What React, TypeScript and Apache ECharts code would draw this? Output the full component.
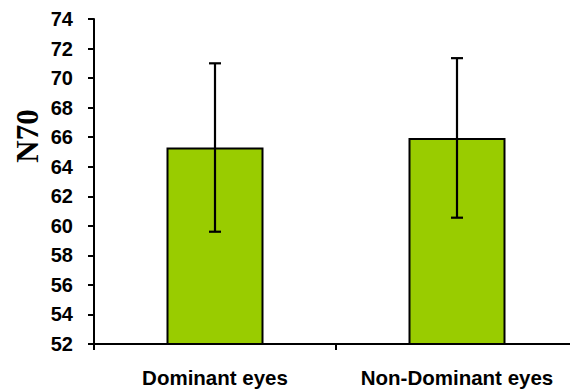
import React, { useEffect, useRef } from "react";
import * as echarts from "echarts";

const categories = ["Dominant eyes", "Non-Dominant eyes"];
const means = [65.3, 65.95];
const errLow = [59.6, 60.55];
const errHigh = [71.0, 71.35];
const yTicks = { min: 52, max: 74, interval: 2 };
const yName = "N70";

export default function App() {
  const ref = useRef<HTMLDivElement>(null);
  useEffect(() => {
    if (!ref.current) return;
    const chart = echarts.init(ref.current, undefined, { renderer: "svg" });
    const errData = categories.map((_, i) => [i, errLow[i], errHigh[i]]);
    chart.setOption({
      animation: false,
      backgroundColor: "#ffffff",
      grid: { left: 94, top: 19, bottom: 48, right: 2 },
      xAxis: {
        type: "category",
        data: categories,
        axisLine: { lineStyle: { color: "#000", width: 2 } },
        axisTick: { show: true, length: 6, lineStyle: { color: "#000", width: 2 } },
        axisLabel: {
          color: "#000",
          fontFamily: "Liberation Sans, Arial",
          fontWeight: "bold",
          fontSize: 20.5,
          margin: 23,
          interval: 0,
          hideOverlap: false,
        },
        splitLine: { show: false },
      },
      yAxis: {
        type: "value",
        min: yTicks.min,
        max: yTicks.max,
        interval: yTicks.interval,
        axisLine: { show: true, lineStyle: { color: "#000", width: 2 } },
        axisTick: { show: true, length: 6, lineStyle: { color: "#000", width: 2 } },
        axisLabel: {
          color: "#000",
          fontFamily: "Liberation Sans, Arial",
          fontWeight: "bold",
          fontSize: 20,
          margin: 21,
        },
        splitLine: { show: false },
      },
      graphic: [
        {
          type: "text",
          x: 27,
          y: 136,
          rotation: Math.PI / 2,
          style: {
            text: yName,
            fill: "#000",
            font: "bold 31px 'Liberation Serif', 'Times New Roman', serif",
            textAlign: "center",
            textVerticalAlign: "middle",
          },
        },
      ],
      series: [
        {
          type: "bar",
          data: means,
          barWidth: 97,
          itemStyle: { color: "#99CC00", borderColor: "#000", borderWidth: 2 },
          z: 2,
        },
        {
          type: "custom",
          data: errData,
          z: 5,
          renderItem: (params: any, api: any) => {
            const x = api.value(0);
            const lo = api.coord([x, api.value(1)]);
            const hi = api.coord([x, api.value(2)]);
            const cx = Math.round(lo[0]);
            const half = 6;
            const style = { stroke: "#000", lineWidth: 2.2 };
            return {
              type: "group",
              children: [
                { type: "line", shape: { x1: cx, y1: hi[1], x2: cx, y2: lo[1] }, style },
                { type: "line", shape: { x1: cx - half, y1: hi[1], x2: cx + half, y2: hi[1] }, style },
                { type: "line", shape: { x1: cx - half, y1: lo[1], x2: cx + half, y2: lo[1] }, style },
              ],
            };
          },
        },
      ],
    });
    return () => chart.dispose();
  }, []);
  return (
    <div style={{ width: 570, height: 392, position: "absolute", left: 0, top: 0, overflow: "hidden" }}>
      <div ref={ref} style={{ width: 580, height: 392 }} />
    </div>
  );
}
